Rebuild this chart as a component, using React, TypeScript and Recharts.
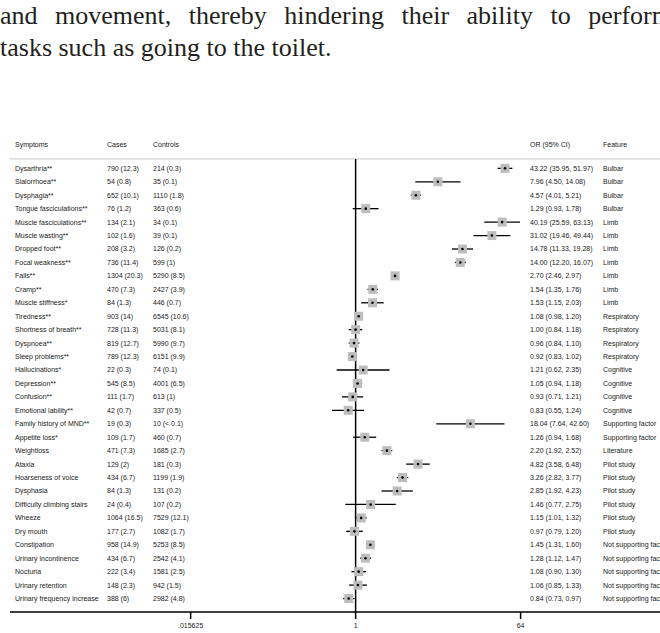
import { ErrorBar, ReferenceLine, Scatter, ScatterChart, XAxis, YAxis } from "recharts";

const symptoms = [
  "Dysarthria**", "Sialorrhoea**", "Dysphagia**", "Tongue fasciculations**",
  "Muscle fasciculations**", "Muscle wasting**", "Dropped foot**", "Focal weakness**",
  "Falls**", "Cramp**", "Muscle stiffness*", "Tiredness**", "Shortness of breath**",
  "Dyspnoea**", "Sleep problems**", "Hallucinations*", "Depression**", "Confusion**",
  "Emotional lability**", "Family history of MND**", "Appetite loss*", "Weightloss",
  "Ataxia", "Hoarseness of voice", "Dysphasia", "Difficulty climbing stairs", "Wheeze",
  "Dry mouth", "Constipation", "Urinary incontinence", "Nocturia", "Urinary retention",
  "Urinary frequency increase",
];

const cases = [
  "790 (12.3)", "54 (0.8)", "652 (10.1)", "76 (1.2)", "134 (2.1)", "102 (1.6)",
  "208 (3.2)", "736 (11.4)", "1304 (20.3)", "470 (7.3)", "84 (1.3)", "903 (14)",
  "728 (11.3)", "819 (12.7)", "789 (12.3)", "22 (0.3)", "545 (8.5)", "111 (1.7)",
  "42 (0.7)", "19 (0.3)", "109 (1.7)", "471 (7.3)", "129 (2)", "434 (6.7)", "84 (1.3)",
  "24 (0.4)", "1064 (16.5)", "177 (2.7)", "958 (14.9)", "434 (6.7)", "222 (3.4)",
  "148 (2.3)", "388 (6)",
];

const controls = [
  "214 (0.3)", "35 (0.1)", "1110 (1.8)", "363 (0.6)", "34 (0.1)", "39 (0.1)",
  "126 (0.2)", "599 (1)", "5290 (8.5)", "2427 (3.9)", "446 (0.7)", "6545 (10.6)",
  "5031 (8.1)", "5990 (9.7)", "6151 (9.9)", "74 (0.1)", "4001 (6.5)", "613 (1)",
  "337 (0.5)", "10 (< 0.1)", "460 (0.7)", "1685 (2.7)", "181 (0.3)", "1199 (1.9)",
  "131 (0.2)", "107 (0.2)", "7529 (12.1)", "1082 (1.7)", "5253 (8.5)", "2542 (4.1)",
  "1581 (2.5)", "942 (1.5)", "2982 (4.8)",
];

const oddsRatios = [
  43.22, 7.96, 4.57, 1.29, 40.19, 31.02, 14.78, 14.0, 2.7, 1.54, 1.53, 1.08, 1.0,
  0.96, 0.92, 1.21, 1.05, 0.93, 0.83, 18.04, 1.26, 2.2, 4.82, 3.26, 2.85, 1.46, 1.15,
  0.97, 1.45, 1.28, 1.08, 1.06, 0.84,
];

const ciLow = [
  35.95, 4.5, 4.01, 0.93, 25.59, 19.46, 11.33, 12.2, 2.46, 1.35, 1.15, 0.98, 0.84,
  0.84, 0.83, 0.62, 0.94, 0.71, 0.55, 7.64, 0.94, 1.92, 3.58, 2.82, 1.92, 0.77, 1.01,
  0.79, 1.31, 1.12, 0.9, 0.85, 0.73,
];

const ciHigh = [
  51.97, 14.08, 5.21, 1.78, 63.13, 49.44, 19.28, 16.07, 2.97, 1.76, 2.03, 1.2, 1.18,
  1.1, 1.02, 2.35, 1.18, 1.21, 1.24, 42.6, 1.68, 2.52, 6.48, 3.77, 4.23, 2.75, 1.32,
  1.2, 1.6, 1.47, 1.3, 1.33, 0.97,
];

const features = [
  "Bulbar", "Bulbar", "Bulbar", "Bulbar", "Limb", "Limb", "Limb", "Limb", "Limb", "Limb",
  "Limb", "Respiratory", "Respiratory", "Respiratory", "Respiratory", "Cognitive",
  "Cognitive", "Cognitive", "Cognitive", "Supporting factor", "Supporting factor",
  "Literature", "Pilot study", "Pilot study", "Pilot study", "Pilot study", "Pilot study",
  "Pilot study", "Not supporting factor", "Not supporting factor", "Not supporting factor",
  "Not supporting factor", "Not supporting factor",
];

const headers = ["Symptoms", "Cases", "Controls", "OR (95% CI)", "Feature"];
const xTicks = [0.015625, 1, 64];

const COL_X = [15, 107, 153, 530, 603];
const FONT = "'Liberation Sans', Arial, sans-serif";
const TEXT_COLOR = "#1a1a1a";

const rows = symptoms.map((name, i) => ({
  row: i,
  or: oddsRatios[i],
  err: [oddsRatios[i] - ciLow[i], ciHigh[i] - oddsRatios[i]],
  cols: [
    name,
    cases[i],
    controls[i],
    `${oddsRatios[i].toFixed(2)} (${ciLow[i].toFixed(2)}, ${ciHigh[i].toFixed(2)})`,
    features[i],
  ],
}));

const headerRow = [{ row: -1.75, or: 1, cols: headers }];

// text columns, placed on the row's y from the chart's own scale
const TextRow = (props: any) => {
  const { cy, payload } = props;
  return (
    <g>
      {payload.cols.map((t: string, j: number) => (
        <text
          key={j}
          x={COL_X[j]}
          y={cy}
          dy="0.35em"
          style={{ fill: TEXT_COLOR, fontFamily: FONT, fontSize: 7, stroke: "none" }}
        >
          {t}
        </text>
      ))}
    </g>
  );
};

const Box = (props: any) => {
  const { cx, cy } = props;
  return <rect x={cx - 4.5} y={cy - 4.5} width={9} height={9} style={{ fill: "#bdbdbd", stroke: "none" }} />;
};

const Dot = (props: any) => {
  const { cx, cy } = props;
  return <circle cx={cx} cy={cy} r={1.3} style={{ fill: "#000", stroke: "none" }} />;
};

const fmtTick = (v: number) => String(v).replace(/^0\./, ".");

const paraStyle = {
  position: "absolute" as const,
  left: 0,
  fontFamily: "'Liberation Serif', 'Times New Roman', serif",
  fontSize: 26,
  lineHeight: "32px",
  color: "#231f20",
};

export default function App() {
  return (
    <div
      style={{
        position: "absolute",
        left: 0,
        top: 0,
        width: 660,
        height: 633,
        overflow: "hidden",
        background: "#fff",
      }}
    >
      <div style={{ ...paraStyle, top: 0, width: 672, textAlign: "justify", textAlignLast: "justify" }}>
        and movement, thereby hindering their ability to perform
      </div>
      <div style={{ ...paraStyle, top: 32, whiteSpace: "nowrap" }}>tasks such as going to the toilet.</div>
      <div style={{ position: "absolute", left: 0, top: 0 }}>
        <ScatterChart width={660} height={633} margin={{ top: 128, right: 0, bottom: 0, left: 10 }}>
          <XAxis
            type="number"
            dataKey="or"
            scale="log"
            domain={[Math.pow(2, -12.57), Math.pow(2, 11.07)]}
            allowDataOverflow
            ticks={xTicks}
            tickFormatter={fmtTick}
            height={21}
            tickSize={7}
            tickMargin={4}
            axisLine={{ stroke: "#000", strokeWidth: 1.5 }}
            tickLine={{ stroke: "#000", strokeWidth: 1.5 }}
            tick={{ fill: TEXT_COLOR, fontFamily: FONT, fontSize: 7 }}
          />
          <YAxis type="number" dataKey="row" domain={[-3, 33]} reversed hide width={0} allowDataOverflow />
          <ReferenceLine y={-0.7} stroke="#c8c8c8" strokeWidth={1} />
          <ReferenceLine
            segment={[
              { x: 1, y: -0.7 },
              { x: 1, y: 33 },
            ]}
            stroke="#000"
            strokeWidth={1.5}
          />
          <Scatter data={headerRow} shape={TextRow} fill={TEXT_COLOR} isAnimationActive={false} />
          <Scatter data={rows} shape={TextRow} fill={TEXT_COLOR} isAnimationActive={false} />
          <Scatter data={rows} shape={Box} fill="#bdbdbd" isAnimationActive={false} />
          <Scatter data={rows} shape={Dot} fill="#000" isAnimationActive={false}>
            <ErrorBar dataKey="err" direction="x" width={0} stroke="#000" strokeWidth={1.3} />
          </Scatter>
        </ScatterChart>
      </div>
    </div>
  );
}
